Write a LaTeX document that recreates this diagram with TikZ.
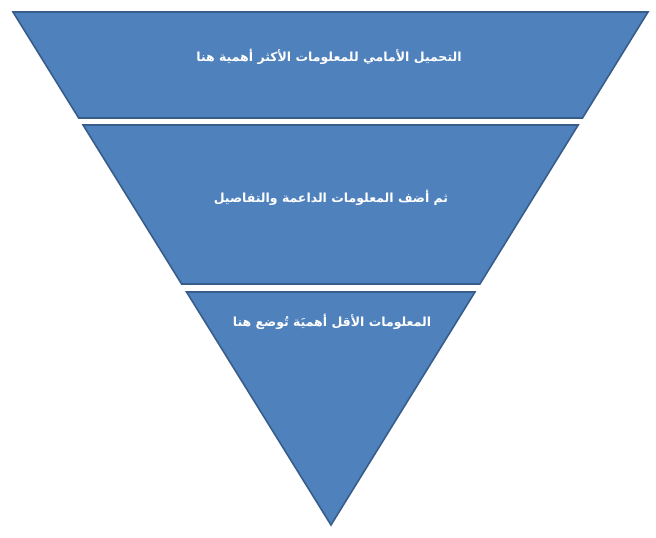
\documentclass[tikz,border=0pt]{standalone}
\usepackage{fontspec}
\newfontfamily\arabicfont[Script=Arabic]{DejaVu Sans}
\TeXXeTstate=1
\usetikzlibrary{calc}
\definecolor{bandfill}{RGB}{79,129,189}
\definecolor{bandline}{RGB}{56,93,138}
\tikzset{
  band/.style={fill=bandfill, draw=bandline, line width=1.6pt, line join=miter},
  bandtext/.style={text=white, font=\arabicfont\bfseries\fontsize{12.5}{15}\selectfont}
}
\begin{document}
\begin{tikzpicture}[x=1pt, y=-1pt]
	\useasboundingbox (0,0) rectangle (656,538);
	\coordinate (tl) at (13,12);
	\coordinate (tr) at (648,12);
	\coordinate (tip) at (331,525);
	% three bands of one inverted triangle
	\draw[band] (tl) -- (tr) -- ($(tr)!0.2066!(tip)$) -- ($(tl)!0.2066!(tip)$) -- cycle;
	\draw[band] ($(tl)!0.2203!(tip)$) -- ($(tr)!0.2203!(tip)$) -- ($(tr)!0.5302!(tip)$) -- ($(tl)!0.5302!(tip)$) -- cycle;
	\draw[band] ($(tl)!0.5458!(tip)$) -- ($(tr)!0.5458!(tip)$) -- (tip) -- cycle;
	\node[bandtext] (lead) at (329,57) {\beginR التحميل الأمامي للمعلومات الأكثر أهمية هنا\endR};
	\node[bandtext] (body) at (331,198) {\beginR ثم أضف المعلومات الداعمة والتفاصيل\endR};
	\node[bandtext] (tail) at (332,322) {\beginR المعلومات الأقل أهميَة تُوضع هنا\endR};
\end{tikzpicture}
\end{document}
